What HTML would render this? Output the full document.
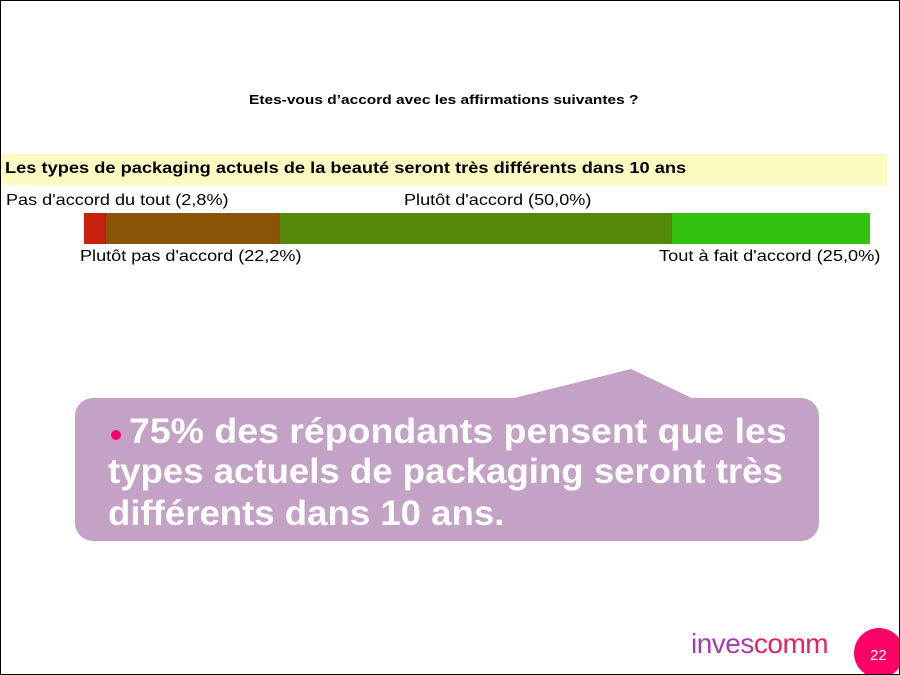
<!DOCTYPE html>
<html><head><style>
body{margin:0;width:900px;height:675px;overflow:hidden;background:#fff;font-family:"Liberation Sans",sans-serif;}
#p{position:absolute;left:0;top:0;width:898px;height:673px;border:1px solid #000;overflow:hidden;}
.t{position:absolute;white-space:nowrap;transform-origin:0 0;}
</style></head><body><div id="p">
<div class="t" style="left:248px;top:91px;font-size:13px;font-weight:bold;transform:scaleX(1.19);">Etes-vous d’accord avec les affirmations suivantes ?</div>
<div style="position:absolute;left:0;top:153px;width:886px;height:31px;background:#fdfac2"></div>
<div class="t" style="left:4px;top:159px;font-size:16px;font-weight:bold;transform:scaleX(1.14);">Les types de packaging actuels de la beauté seront très différents dans 10 ans</div>
<div class="t" style="left:5px;top:191px;font-size:16px;transform:scaleX(1.13);">Pas d'accord du tout (2,8%)</div>
<div class="t" style="left:403px;top:191px;font-size:16px;transform:scaleX(1.13);">Plutôt d'accord (50,0%)</div>
<div style="position:absolute;left:83px;top:212px;width:21px;height:31px;background:#c8210d"></div>
<div style="position:absolute;left:104px;top:212px;width:174px;height:31px;background:#8a5506;border-left:1px solid #6a3a06"></div>
<div style="position:absolute;left:278px;top:212px;width:392px;height:31px;background:#55890a;border-left:1px solid #4a6a10"></div>
<div style="position:absolute;left:670px;top:212px;width:198px;height:31px;background:#33c30f;border-left:1px solid #3a8a10"></div>
<div class="t" style="left:79px;top:247px;font-size:16px;transform:scaleX(1.13);">Plutôt pas d'accord (22,2%)</div>
<div class="t" style="left:658px;top:247px;font-size:16px;transform:scaleX(1.14);">Tout à fait d'accord (25,0%)</div>
<svg style="position:absolute;left:0;top:0" width="900" height="675"><polygon points="505,399 630,368 695,399" fill="#c4a2c6"/></svg>
<div style="position:absolute;left:74px;top:397px;width:744px;height:143px;background:#c4a2c6;border-radius:18px;"></div>
<div style="position:absolute;left:110px;top:429px;width:10px;height:10px;border-radius:50%;background:#ff0066;"></div>
<div class="t" style="left:128px;top:410px;font-size:35px;font-weight:bold;color:#fff;line-height:41px;transform:scaleX(1.07);">75% des répondants pensent que les</div>
<div class="t" style="left:107px;top:450px;font-size:35px;font-weight:bold;color:#fff;line-height:41px;transform:scaleX(1.045);">types actuels de packaging seront très</div>
<div class="t" style="left:107px;top:492px;font-size:35px;font-weight:bold;color:#fff;line-height:41px;transform:scaleX(1.045);">différents dans 10 ans.</div>
<div class="t" style="left:690px;top:627px;font-size:28px;letter-spacing:-0.5px;"><span style="color:#a040b0">inves</span><span style="color:#e8206a">comm</span></div>
<div style="position:absolute;left:853px;top:627px;width:50px;height:50px;border-radius:50%;background:#ff0066;"></div>
<div class="t" style="left:869px;top:646px;font-size:15px;color:#fff;">22</div>
</div></body></html>
